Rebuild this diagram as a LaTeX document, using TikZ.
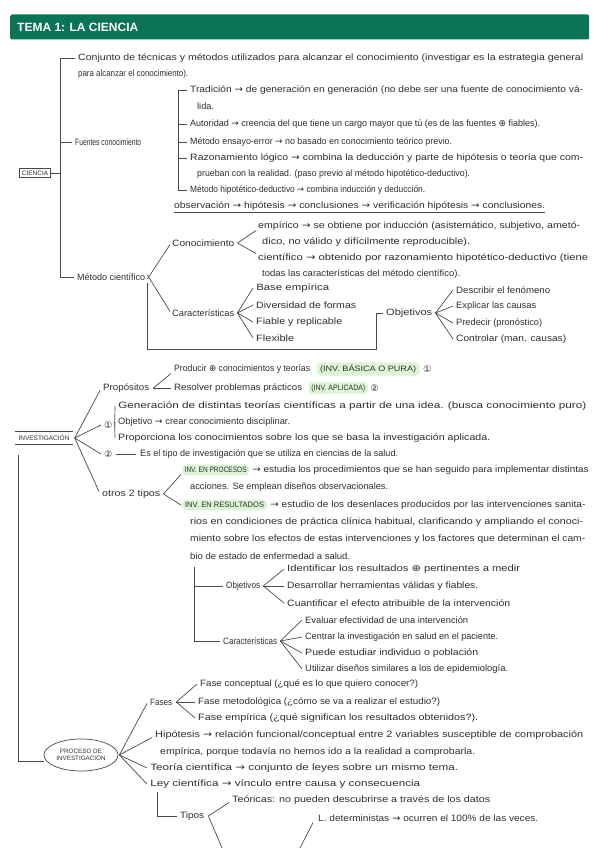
\documentclass[tikz,border=0pt]{standalone}
\usepackage{fontspec}
\usetikzlibrary{shapes.geometric}
\setmainfont{Liberation Sans}
\newfontfamily\sym{DejaVu Sans}
\newcommand{\rar}{{\sym →}}
\newcommand{\cplus}{{\sym ⊕}}
\newsavebox\fwbox
\newcommand{\mainfs}{\fontsize{9.2}{10}\selectfont}
\newcommand{\hlfs}{\fontsize{7.8}{9}\selectfont}
\newcommand{\fwmeasure}[3]{\pgfinterruptpicture\global\setbox\fwbox=\hbox{#1#2}\endpgfinterruptpicture
  \ifdim\wd\fwbox<1pt \def\fwf{1}\else\pgfmathsetmacro\fwf{#3/\the\wd\fwbox}\fi}
% fitted text node: name, position, width, text
\newcommand{\txn}[4]{\fwmeasure{\mainfs}{#4}{#3}%
  \begin{scope}[shift={(#2)},xscale=\fwf]\node[t,transform shape] (#1) at (0,0) {#4};\end{scope}}
\newcommand{\hln}[4]{\fwmeasure{\hlfs}{#4}{#3}%
  \begin{scope}[shift={(#2)},xscale=\fwf]\node[t,hl,transform shape] (#1) at (0,0) {#4};\end{scope}}
\definecolor{hdr}{HTML}{0B7454}
\definecolor{hlg}{HTML}{DCF5D4}
\definecolor{linec}{HTML}{4A4A4A}
\definecolor{txt}{HTML}{2E2E2E}
\tikzset{
  t/.style={anchor=west, inner sep=0pt, text=txt, font=\mainfs},
  hl/.style={fill=hlg, rounded corners=4pt, inner xsep=3pt, inner ysep=2.5pt, font=\hlfs},
  ln/.style={draw=linec, line width=0.7pt},
  dbox/.style={draw=linec, line width=0.5pt, double=white, double distance=0.9pt, inner xsep=3pt, inner ysep=3pt, text=txt, font=\fontsize{6.5}{7}\selectfont},
}
\begin{document}
\begin{tikzpicture}[x=1pt,y=-1pt]
\useasboundingbox (0,0) rectangle (599,848);
% header
\node[fill=hdr, rounded corners=2pt, minimum width=579pt, minimum height=25pt, anchor=west, inner sep=0pt] (hdr) at (10,27) {};
\node[anchor=west, inner sep=0pt, text=white, font=\bfseries\fontsize{12}{13}\selectfont] (ttl) at (17,27) {TEMA 1: LA CIENCIA};

%%%%%%%%%% CIENCIA
\node[dbox] (ciencia) at (35,173) {CIENCIA};
\coordinate (b1) at (60,0);
\txn{conj}{78,58}{505}{Conjunto de técnicas y métodos utilizados para alcanzar el conocimiento (investigar es la estrategia general}
\txn{conj2}{78,74}{110}{para alcanzar el conocimiento).}
\txn{fuentes}{75,142}{66}{Fuentes conocimiento}
\txn{metodo}{77,277}{68}{Método científico}
\draw[ln] ([xshift=-3]conj.west) -- (conj.west -| b1) -- (metodo.west -| b1) -- ([xshift=-3]metodo.west);
\draw[ln] (ciencia.east) -- (ciencia.east -| b1);
\draw[ln] ([xshift=-3]fuentes.west) -- (fuentes.west -| b1);

% fuentes
\coordinate (b2) at (178,0);
\txn{trad}{190,90}{393}{Tradición \rar{} de generación en generación (no debe ser una fuente de conocimiento vá-}
\node[t] (trad2) at (197,106) {lida.};
\txn{auto}{190,124}{350}{Autoridad \rar{} creencia del que tiene un cargo mayor que tú (es de las fuentes \cplus{} fiables).}
\txn{ensayo}{190,142}{262}{Método ensayo-error \rar{} no basado en conocimiento teórico previo.}
\txn{razon}{190,158}{393}{Razonamiento lógico \rar{} combina la deducción y parte de hipótesis o teoría que com-}
\txn{razon2}{197,174}{273}{prueban con la realidad. (paso previo al método hipotético-deductivo).}
\txn{hipded}{190,190}{235}{Método hipotético-deductivo \rar{} combina inducción y deducción.}
\draw[ln] ([xshift=-3]trad.west) -- (trad.west -| b2) -- (hipded.west -| b2) -- ([xshift=-3]hipded.west);
\foreach \n in {auto,ensayo,razon} \draw[ln] ([xshift=-3]\n.west) -- (\n.west -| b2);
\txn{obs}{174,206}{371}{observación \rar{} hipótesis \rar{} conclusiones \rar{} verificación hipótesis \rar{} conclusiones.}
\draw[ln, line width=0.5pt] ([yshift=-1.5]obs.south west) -- ([yshift=-1.5]obs.south east);

% metodo cientifico
\txn{conoc}{172,243}{62}{Conocimiento}
\txn{carac}{172,313}{62}{Características}
\draw[ln] ([xshift=2,yshift=-2]metodo.east) -- ([xshift=-2,yshift=2]conoc.south west);
\draw[ln] ([xshift=2,yshift=2]metodo.east) -- ([xshift=-2,yshift=-2]carac.north west);
\txn{emp}{258,226}{322}{empírico \rar{} se obtiene por inducción (asistemático, subjetivo, ametó-}
\txn{emp2}{262,242}{208}{dico, no válido y difícilmente reproducible).}
\txn{cient}{258,258}{330}{científico \rar{} obtenido por razonamiento hipotético-deductivo (tiene}
\txn{cient2}{262,274}{198}{todas las características del método científico).}
\draw[ln] ([xshift=3]conoc.east) -- ([xshift=-2]emp.south west);
\draw[ln] ([xshift=3]conoc.east) -- ([xshift=-2]cient.north west);
\txn{base}{256,288}{73}{Base empírica}
\txn{div}{256,305}{100}{Diversidad de formas}
\txn{fiab}{256,322}{86}{Fiable y replicable}
\txn{flex}{256,338}{38}{Flexible}
\foreach \n in {base,div,fiab,flex} \draw[ln] ([xshift=3]carac.east) -- ([xshift=-3]\n.west);
\txn{objet}{386,313}{46}{Objetivos}
\coordinate (ob2) at (376,349);
\draw[ln] ([xshift=2,yshift=-2]metodo.south east) -- ([xshift=2]metodo.south east |- ob2) -- (ob2) -- (ob2 |- objet.west) -- ([xshift=-3]objet.west);
\txn{desc}{456,290}{94}{Describir el fenómeno}
\txn{expl}{456,306}{80}{Explicar las causas}
\txn{pred}{456,323}{86}{Predecir (pronóstico)}
\txn{contr}{456,339}{110}{Controlar (man. causas)}
\foreach \n in {desc,expl,pred,contr} \draw[ln] ([xshift=3]objet.east) -- ([xshift=-3]\n.west);

%%%%%%%%%% INVESTIGACION
\node[dbox] (invest) at (44,438) {INVESTIGACIÓN};
\txn{prop}{103,388}{46}{Propósitos}
\node[t] (c1) at (104,425) {\sym ①};
\node[t] (c2) at (104,454) {\sym ②};
\txn{otros}{102,494}{58}{otros 2 tipos}
\draw[ln] ([xshift=2]invest.east) -- ([xshift=-3,yshift=2]prop.south west);
\draw[ln] ([xshift=2]invest.east) -- ([xshift=-3]c1.west);
\draw[ln] ([xshift=2]invest.east) -- ([xshift=-3]c2.west);
\draw[ln] ([xshift=2]invest.east) -- ([xshift=-3,yshift=-2]otros.north west);

\txn{prod}{174,369}{136}{Producir \cplus{} conocimientos y teorías}
\hln{prodh}{[xshift=6]prod.east}{96}{(INV. BÁSICA O PURA)}
\node[t] (prodn) at ([xshift=3]prodh.east) {\sym ①};
\txn{resol}{174,388}{128}{Resolver problemas prácticos}
\hln{resolh}{[xshift=6]resol.east}{54}{(INV. APLICADA)}
\node[t] (resoln) at ([xshift=2]resolh.east) {\sym ②};
\draw[ln] ([xshift=4]prop.east) -- ([xshift=-3]prod.south west);
\draw[ln] ([xshift=4]prop.east) -- ([xshift=-3]resol.west);

\txn{gen}{118,406}{468}{Generación de distintas teorías científicas a partir de una idea. (busca conocimiento puro)}
\txn{objd}{118,422}{172}{Objetivo \rar{} crear conocimiento disciplinar.}
\txn{propor}{118,438}{372}{Proporciona los conocimientos sobre los que se basa la investigación aplicada.}
\foreach \n in {gen,objd,propor} \draw[ln] ([xshift=2]c1.east) -- ([xshift=-3]\n.west);
\txn{tipo}{140,454}{258}{Es el tipo de investigación que se utiliza en ciencias de la salud.}
\draw[ln] ([xshift=3]c2.east) -- ([xshift=-4]tipo.west);

\hln{proc}{182,470}{62}{INV. EN PROCESOS}
\txn{proct}{[xshift=3]proc.east}{336}{\rar{} estudia los procedimientos que se han seguido para implementar distintas}
\txn{proc2}{190,487}{198}{acciones. Se emplean diseños observacionales.}
\hln{res}{182,505}{79}{INV. EN RESULTADOS}
\txn{rest}{[xshift=3]res.east}{315}{\rar{} estudio de los desenlaces producidos por las intervenciones sanita-}
\txn{res2}{190,522}{393}{rios en condiciones de práctica clínica habitual, clarificando y ampliando el conoci-}
\txn{res3}{190,539}{395}{miento sobre los efectos de estas intervenciones y los factores que determinan el cam-}
\txn{res4}{190,556}{160}{bio de estado de enfermedad a salud.}
\draw[ln] ([xshift=3]otros.east) -- ([xshift=-1,yshift=1]proc.south west);
\draw[ln] ([xshift=3]otros.east) -- ([xshift=-1]res.west);

\coordinate (b3) at (194,567);
\txn{objr}{226,586}{34}{Objetivos}
\txn{carr}{223,641}{54}{Características}
\draw[ln] (b3) -- (b3 |- carr.west) -- ([xshift=-3]carr.west);
\draw[ln] (b3 |- objr.west) -- ([xshift=-3]objr.west);
\txn{ident}{287,569}{233}{Identificar los resultados \cplus{} pertinentes a medir}
\txn{desar}{287,586}{191}{Desarrollar herramientas válidas y fiables.}
\txn{cuan}{287,603}{223}{Cuantificar el efecto atribuible de la intervención}
\foreach \n in {ident,desar,cuan} \draw[ln] ([xshift=3]objr.east) -- ([xshift=-3]\n.west);
\txn{ev}{305,620}{163}{Evaluar efectividad de una intervención}
\txn{cen}{305,637}{193}{Centrar la investigación en salud en el paciente.}
\txn{pue}{305,653}{173}{Puede estudiar individuo o población}
\txn{uti}{305,669}{203}{Utilizar diseños similares a los de epidemiología.}
\foreach \n in {ev,cen,pue,uti} \draw[ln] ([xshift=3]carr.east) -- ([xshift=-3]\n.west);

%%%%%%%%%% PROCESO
\node[draw=linec, line width=0.7pt, ellipse, inner xsep=0pt, inner ysep=1pt, align=center, text=txt, font=\fontsize{6.3}{7.5}\selectfont, minimum width=74pt, minimum height=32pt] (proceso) at (81,755) {PROCESO DE\\INVESTIGACIÓN};
\coordinate (l1) at (18,455);
\draw[ln] (l1) |- ([yshift=-6]proceso.west);

\txn{fases}{150,702}{22}{Fases}
\txn{hip}{155,735}{428}{Hipótesis \rar{} relación funcional/conceptual entre 2 variables susceptible de comprobación}
\txn{hip2}{160,752}{315}{empírica, porque todavía no hemos ido a la realidad a comprobarla.}
\txn{teo}{150,768}{308}{Teoría científica \rar{} conjunto de leyes sobre un mismo tema.}
\txn{ley}{150,784}{270}{Ley científica \rar{} vínculo entre causa y consecuencia}
\draw[ln] ([xshift=1]proceso.east) -- ([xshift=-3,yshift=2]fases.south west);
\draw[ln] ([xshift=1]proceso.east) -- ([xshift=-3,yshift=2]hip.south west);
\draw[ln] ([xshift=1]proceso.east) -- ([xshift=-3]teo.west);
\draw[ln] ([xshift=1]proceso.east) -- ([xshift=-3]ley.west);

\txn{fc}{200,684}{218}{Fase conceptual (¿qué es lo que quiero conocer?)}
\txn{fm}{198,702}{242}{Fase metodológica (¿cómo se va a realizar el estudio?)}
\txn{fe}{198,718}{280}{Fase empírica (¿qué significan los resultados obtenidos?).}
\foreach \n in {fc,fm,fe} \draw[ln] ([xshift=4]fases.east) -- ([xshift=-3]\n.west);

\coordinate (b4) at (157,792);
\txn{tipos}{180,816}{24}{Tipos}
\draw[ln] (b4) -- (b4 |- tipos.west) -- ([xshift=-3]tipos.west);
\txn{teor}{232,800}{258}{Teóricas: no pueden descubrirse a través de los datos}
\draw[ln] ([xshift=4]tipos.east) -- ([xshift=-3,yshift=2]teor.south west);
\coordinate (tend) at (222,848);
\draw[ln] ([xshift=4]tipos.east) -- (tend);
\txn{ldet}{318,818}{220}{L. deterministas \rar{} ocurren el 100\% de las veces.}
\coordinate (lend) at (300,848);
\draw[ln] ([xshift=-5,yshift=-1]ldet.south west) -- (lend);
\end{tikzpicture}
\end{document}
